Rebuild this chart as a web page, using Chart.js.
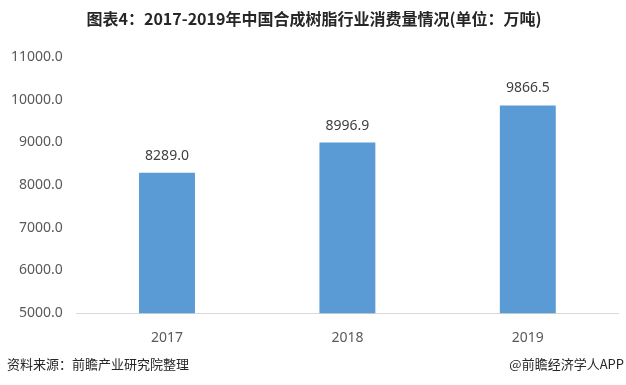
<!DOCTYPE html>
<html>
<head>
  <title>合成树脂消费量</title>
  <script src="https://cdn.jsdelivr.net/npm/chart.js"></script>
  <style>
    body { margin: 0; background: #fff; }
    #wrap { width: 626px; height: 385px; }
  </style>
</head>
<body>
  <div id="wrap"><canvas id="myChart"></canvas></div>
  <script>
    const years = ['2017', '2018', '2019'];
    const consumption = [8289.0, 8996.9, 9866.5];
    const titleText = '图表4：2017-2019年中国合成树脂行业消费量情况(单位：万吨)';
    const sourceText = '资料来源：前瞻产业研究院整理';
    const brandText = '@前瞻经济学人APP';

    const font = '"Noto Sans", "Noto Sans CJK SC", sans-serif';

    // value labels over each bar
    const barLabels = {
      id: 'barLabels',
      afterDatasetsDraw(chart) {
        const c = chart.ctx;
        const meta = chart.getDatasetMeta(0);
        c.save();
        c.font = '14px ' + font;
        c.fillStyle = '#404040';
        c.textAlign = 'center';
        c.textBaseline = 'bottom';
        meta.data.forEach((bar, i) => {
          c.fillText(consumption[i].toFixed(1), bar.x, bar.y - 10);
        });
        c.restore();
      }
    };

    // title on top, source line at the bottom
    const headFoot = {
      id: 'headFoot',
      afterDraw(chart) {
        const c = chart.ctx;
        c.save();
        c.font = 'bold 16px "Noto Sans CJK SC", sans-serif';
        c.fillStyle = '#262626';
        c.textBaseline = 'middle';
        c.textAlign = 'center';
        c.fillText(titleText, 314, 19);
        c.font = '13px "Noto Sans CJK SC", sans-serif';
        c.textAlign = 'left';
        c.fillText(sourceText, 7, 364);
        c.textAlign = 'right';
        c.fillText(brandText, 624, 364);
        c.restore();
      }
    };

    new Chart(document.getElementById('myChart'), {
      type: 'bar',
      data: {
        labels: years,
        datasets: [{
          data: consumption,
          backgroundColor: '#5B9BD5',
          barPercentage: 0.31,
          categoryPercentage: 1.0
        }]
      },
      options: {
        responsive: true,
        maintainAspectRatio: false,
        animation: false,
        layout: { padding: { top: 57, left: 5, right: 8, bottom: 31 } },
        plugins: {
          legend: { display: false },
          tooltip: { enabled: false },
          title: { display: false }
        },
        scales: {
          x: {
            grid: { display: false },
            border: { display: true, color: '#D9D9D9' },
            ticks: { color: '#595959', font: { family: font, size: 14 }, padding: 8 }
          },
          y: {
            min: 5000,
            max: 11000,
            grid: { display: false },
            border: { display: false },
            ticks: {
              stepSize: 1000,
              color: '#595959',
              font: { family: font, size: 14 },
              padding: 6,
              callback: v => v.toFixed(1)
            }
          }
        }
      },
      plugins: [barLabels, headFoot]
    });
  </script>
</body>
</html>
